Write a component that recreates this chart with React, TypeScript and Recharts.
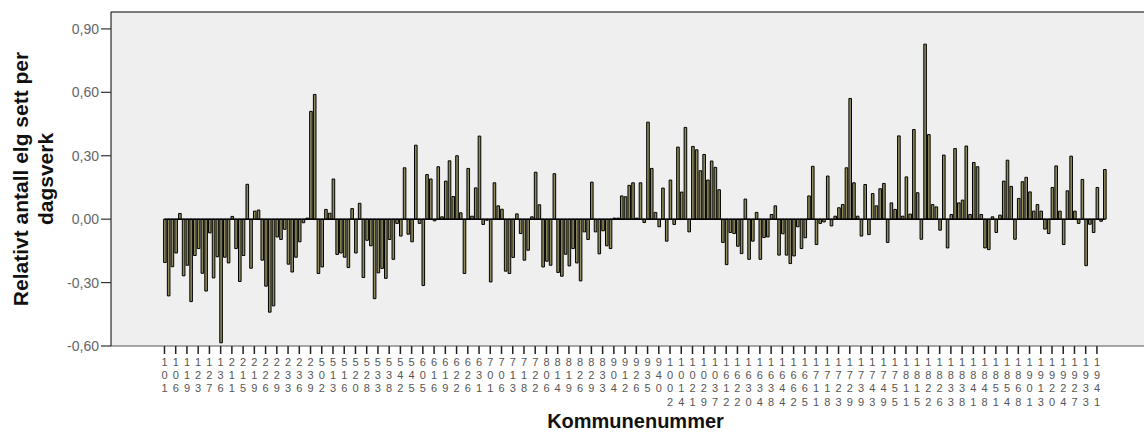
import React from 'react';
import { BarChart, Bar, XAxis, YAxis, CartesianGrid, ReferenceLine } from 'recharts';

const kommuner: string[] = [
  '101','104','105','106','111','118','119','121','122','123','124','125','127','128','135','136','137','138',
  '211','213','214','215','216','217','219','220','221','226','227','228','229','230','231','233','234','235',
  '236','237','238','239','301','501',
  '502','511','512','513','514','515','516','517','519','520','521','522','528','529','532','533','534','536',
  '538','540','541','542','543','544','545','602','604',
  '605','612','615','616','617','618','619','620','621','622','623','624','626','627','628','631','632','633',
  '701','702','704','706','709','711','713','714','716','718','719','720','722','723','728',
  '806','807','811','814','815','817','819','821','822','826','827','828','829','830','831','833','834','901',
  '904','906','911','912','914','919','926','928','929','935','937','938','940','941','1001',
  '1002','1003','1004','1014','1017','1018','1021','1026','1027','1029','1032','1034','1037','1046','1601',
  '1612','1613','1617','1622','1624','1627','1630','1632','1633','1634','1635','1636','1638','1640','1643',
  '1644','1648','1653','1662','1663','1664','1665','1702','1703',
  '1711','1714','1717','1718','1719','1721','1723','1724','1725','1729','1736','1738','1739','1740','1742',
  '1743','1744','1748','1749','1750','1751','1755','1804','1805',
  '1811','1812','1813','1815','1816','1818','1822','1824','1825','1826','1827','1828','1833','1836','1837',
  '1838','1839','1840','1841','1842','1845','1848','1849','1850','1851','1852','1853','1854','1860','1865',
  '1868','1870','1871','1901','1902','1911','1913','1915','1917','1920','1922','1923','1924','1925','1926',
  '1927','1928','1929','1933','1936','1938','1941','1942','1943'
];

const relativ: number[] = [
  -0.205, -0.363, -0.225, -0.16, 0.027, -0.268, -0.218, -0.39, -0.172, -0.139,
  -0.256, -0.34, -0.065, -0.278, -0.178, -0.585, -0.18, -0.207, 0.013, -0.139,
  -0.295, -0.172, 0.165, -0.232, 0.038, 0.043, -0.194, -0.317, -0.44, -0.41,
  -0.084, -0.096, -0.048, -0.213, -0.25, -0.18, -0.107, -0.017, 0.005, 0.51,
  0.59, -0.257, -0.226, 0.046, 0.028, 0.19, -0.167, -0.16, -0.18, -0.229,
  0.05, -0.16, 0.075, -0.276, -0.1, -0.126, -0.376, -0.254, -0.233, -0.28,
  -0.096, -0.19, -0.02, -0.08, 0.243, -0.071, -0.107, 0.35, -0.02, -0.314,
  0.211, 0.19, -0.008, 0.248, 0.011, 0.18, 0.276, 0.107, 0.3, 0.03,
  -0.257, 0.24, 0.014, 0.148, 0.393, -0.025, -0.005, -0.297, 0.172, 0.063,
  0.047, -0.246, -0.257, -0.181, 0.025, -0.068, -0.194, -0.147, 0.011, 0.222,
  0.068, -0.226, -0.199, -0.218, 0.215, -0.252, -0.27, -0.166, -0.221, -0.139,
  -0.207, -0.292, -0.06, -0.096, 0.175, -0.06, -0.164, -0.055, -0.126, -0.139,
  0.005, 0.005, 0.11, 0.106, 0.16, 0.172, 0.005, 0.172, -0.016, 0.459,
  0.24, 0.032, -0.036, 0.147, -0.104, 0.185, -0.025, 0.341, 0.128, 0.434,
  -0.06, 0.344, 0.328, 0.229, 0.306, 0.185, 0.275, 0.245, 0.139, -0.11,
  -0.215, -0.063, -0.068, -0.128, -0.163, 0.095, -0.19, -0.104, 0.032, -0.19,
  -0.087, -0.084, 0.022, 0.063, -0.17, -0.069, -0.17, -0.21, -0.174, -0.036,
  -0.139, -0.088, 0.11, 0.25, -0.12, -0.02, -0.013, 0.204, -0.032, 0.014,
  0.054, 0.069, 0.243, 0.571, 0.172, 0.014, -0.08, 0.164, -0.073, 0.121,
  0.063, 0.144, 0.169, -0.11, 0.077, 0.046, 0.394, 0.014, 0.2, 0.024,
  0.424, 0.125, -0.095, 0.828, 0.4, 0.069, 0.058, -0.052, 0.303, -0.136,
  0.022, 0.334, 0.077, 0.09, 0.346, 0.022, 0.268, 0.248, 0.022, -0.136,
  -0.144, 0.011, -0.063, 0.019, 0.18, 0.279, 0.155, -0.095, 0.098, 0.177,
  0.198, 0.129, 0.038, 0.069, 0.038, -0.047, -0.068, 0.15, 0.252, 0.038,
  -0.12, 0.134, 0.298, 0.038, -0.02, 0.188, -0.22, -0.024, -0.063, 0.15,
  -0.01, 0.235
];

const yTicks: number[] = [-0.6, -0.3, 0, 0.3, 0.6, 0.9];
const yDomain: [number, number] = [-0.6, 0.98];

const yTitle1 = 'Relativt antall elg sett per';
const yTitle2 = 'dagsverk';
const xTitle = 'Kommunenummer';

const data = kommuner.map((k, i) => ({ k, v: relativ[i] }));

const FONT = '"Liberation Sans", Arial, Helvetica, sans-serif';

const XTick = (props: any) => {
  const { x, y, payload } = props;
  const digits = String(payload.value).split('');
  return (
    <g>
      {digits.map((d, j) => (
        <text
          key={j}
          x={x}
          y={y + 9.6 + j * 13.3}
          textAnchor="middle"
          fontSize={11}
          fill="#555"
          fontFamily={FONT}
        >
          {d}
        </text>
      ))}
    </g>
  );
};

const YTitle = () => (
  <g>
    <text
      transform="rotate(-90)"
      x={-179}
      y={28}
      textAnchor="middle"
      fontSize={21}
      fontWeight="bold"
      fill="#111"
      fontFamily={FONT}
    >
      {yTitle1}
    </text>
    <text
      transform="rotate(-90)"
      x={-179}
      y={53}
      textAnchor="middle"
      fontSize={21}
      fontWeight="bold"
      fill="#111"
      fontFamily={FONT}
    >
      {yTitle2}
    </text>
  </g>
);

const XTitle = (props: any) => {
  const vb = props.viewBox || {};
  const cx = (vb.x ?? 111) + (vb.width ?? 1049) / 2;
  return (
    <text
      x={cx}
      y={428}
      textAnchor="middle"
      fontSize={20}
      fontWeight="bold"
      fill="#111"
      fontFamily={FONT}
    >
      {xTitle}
    </text>
  );
};

export default function App() {
  return (
    <div
      style={{
        position: 'absolute',
        left: 0,
        top: 0,
        width: 1144,
        height: 434,
        overflow: 'hidden',
        background: '#fff',
      }}
    >
      <BarChart
        width={1160}
        height={434}
        data={data}
        margin={{ top: 12, right: 0, left: 0, bottom: 0 }}
        barCategoryGap={0}
      >
        <CartesianGrid fill="#efefef" horizontal={false} vertical={false} />
        <XAxis
          dataKey="k"
          type="category"
          interval={2}
          height={88}
          padding={{ left: 51.6, right: 53.7 }}
          tick={<XTick />}
          tickSize={8}
          tickMargin={2}
          tickLine={{ stroke: '#222', strokeWidth: 1.5 }}
          axisLine={{ stroke: '#555', strokeWidth: 1 }}
          label={{ content: <XTitle /> }}
        />
        <YAxis
          type="number"
          domain={yDomain}
          ticks={yTicks}
          allowDataOverflow
          width={111}
          tickSize={10}
          tickMargin={2}
          tickFormatter={(v: number) => v.toFixed(2).replace('.', ',')}
          tick={{ fontSize: 14, fill: '#666', fontFamily: FONT }}
          tickLine={{ stroke: '#333', strokeWidth: 1.2 }}
          axisLine={{ stroke: '#000', strokeWidth: 1 }}
          label={{ content: <YTitle /> }}
        />
        <ReferenceLine y={yDomain[1]} stroke="#000" strokeWidth={1.2} />
        <Bar
          dataKey="v"
          fill="#8e8a5c"
          stroke="#000"
          strokeWidth={1}
          barSize={2.6}
          isAnimationActive={false}
        />
        <ReferenceLine
          segment={[
            { x: kommuner[0], y: 0 },
            { x: kommuner[kommuner.length - 1], y: 0 },
          ]}
          stroke="#000"
          strokeWidth={1.5}
        />
      </BarChart>
    </div>
  );
}
